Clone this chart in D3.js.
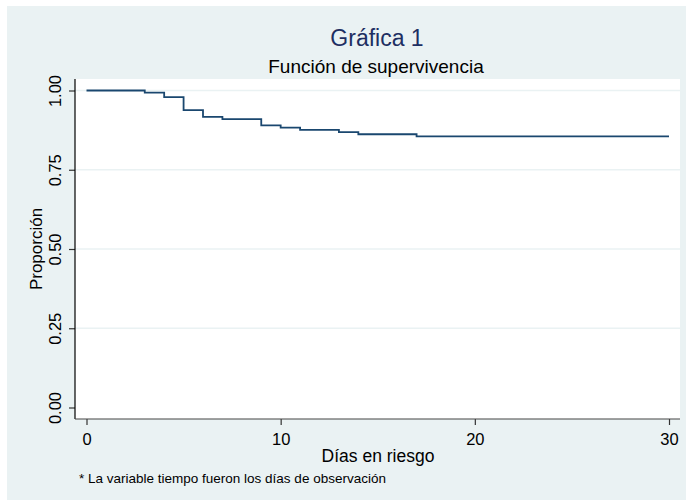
<!DOCTYPE html>
<html>
<head>
<meta charset="utf-8">
<script src="https://cdn.jsdelivr.net/npm/d3@7"></script>
<style>
  html, body { margin: 0; padding: 0; background: #ffffff; }
  svg { display: block; font-family: "Liberation Sans", Arial, sans-serif; }
</style>
</head>
<body>
<svg id="chart" width="686" height="500"></svg>
<script>
// Kaplan–Meier survival estimate: event days and survival proportion after each step
const days = [0, 3, 4, 5, 6, 7, 9, 10, 11, 13, 14, 17, 30];
const survival = [1.000, 0.993, 0.979, 0.938, 0.917, 0.910, 0.890, 0.883, 0.876, 0.869, 0.862, 0.855, 0.855];

const xTicks = [0, 10, 20, 30];
const yTicks = [0, 0.25, 0.5, 0.75, 1];
const yGrid = [0.25, 0.5, 0.75, 1];

const title = "Gráfica 1";
const subtitle = "Función de supervivencia";
const xTitle = "Días en riesgo";
const yTitle = "Proporción";
const note = "* La variable tiempo fueron los días de observación";

const svg = d3.select("#chart");
const W = 686, H = 500;

// outer panel
svg.append("rect").attr("x", 7).attr("y", 6).attr("width", W - 7).attr("height", H - 6)
  .attr("fill", "#eaf2f3");

// plot region
const plot = { left: 75, right: 680, top: 79, bottom: 419 };
svg.append("rect")
  .attr("x", plot.left).attr("y", plot.top)
  .attr("width", plot.right - plot.left).attr("height", plot.bottom - plot.top)
  .attr("fill", "#ffffff");

const x = d3.scaleLinear().domain([0, 30]).range([86.5, 669]);
const y = d3.scaleLinear().domain([0, 1]).range([407.5, 90.5]);

// horizontal grid
svg.append("g").selectAll("line").data(yGrid).join("line")
  .attr("x1", plot.left).attr("x2", plot.right)
  .attr("y1", d => y(d)).attr("y2", d => y(d))
  .attr("stroke", "#eaf2f3").attr("stroke-width", 1.5);

// survival curve
const pts = days.map((d, i) => [d, survival[i]]);
const line = d3.line().x(d => x(d[0])).y(d => y(d[1])).curve(d3.curveStepAfter);
svg.append("path").attr("d", line(pts))
  .attr("fill", "none").attr("stroke", "#1a476f").attr("stroke-width", 1.8);

// y axis
const yAxis = d3.axisLeft(y).tickValues(yTicks).tickFormat(d3.format(".2f")).tickSize(6).tickPadding(0);
const gy = svg.append("g").attr("transform", `translate(${plot.left},0)`).call(yAxis);
gy.select(".domain").remove();
gy.append("line").attr("x1", 0).attr("x2", 0).attr("y1", plot.top).attr("y2", plot.bottom)
  .attr("stroke", "#000").attr("stroke-width", 1.2);
gy.selectAll(".tick line").attr("stroke", "#333").attr("stroke-width", 1.2);
gy.selectAll(".tick text")
  .attr("x", null).attr("dy", null)
  .attr("text-anchor", "middle")
  .attr("transform", "translate(-14,0) rotate(-90)")
  .attr("fill", "#000")
  .style("font-size", "16.5px").style("font-family", "Liberation Sans, Arial, sans-serif");

// x axis
const xAxis = d3.axisBottom(x).tickValues(xTicks).tickFormat(d3.format("d")).tickSize(6).tickPadding(8);
const gx = svg.append("g").attr("transform", `translate(0,${plot.bottom})`).call(xAxis);
gx.select(".domain").remove();
gx.append("line").attr("x1", plot.left).attr("x2", plot.right).attr("y1", 0).attr("y2", 0)
  .attr("stroke", "#444").attr("stroke-width", 1.2);
gx.selectAll(".tick line").attr("stroke", "#333").attr("stroke-width", 1.2);
gx.selectAll(".tick text").attr("fill", "#000")
  .style("font-size", "16.5px").style("font-family", "Liberation Sans, Arial, sans-serif");

// titles
svg.append("text").attr("x", 377).attr("y", 46).attr("text-anchor", "middle")
  .attr("fill", "#1e2f62").style("font-size", "23px").text(title);
svg.append("text").attr("x", 376).attr("y", 73).attr("text-anchor", "middle")
  .attr("fill", "#000").style("font-size", "19px").text(subtitle);
svg.append("text").attr("x", 378).attr("y", 462).attr("text-anchor", "middle")
  .attr("fill", "#000").style("font-size", "17.5px").text(xTitle);
svg.append("text").attr("transform", `translate(42,${y(0.5)}) rotate(-90)`).attr("text-anchor", "middle")
  .attr("fill", "#000").style("font-size", "17px").text(yTitle);
svg.append("text").attr("x", 79).attr("y", 483)
  .attr("fill", "#000").style("font-size", "13.5px").text(note);
</script>
</body>
</html>
